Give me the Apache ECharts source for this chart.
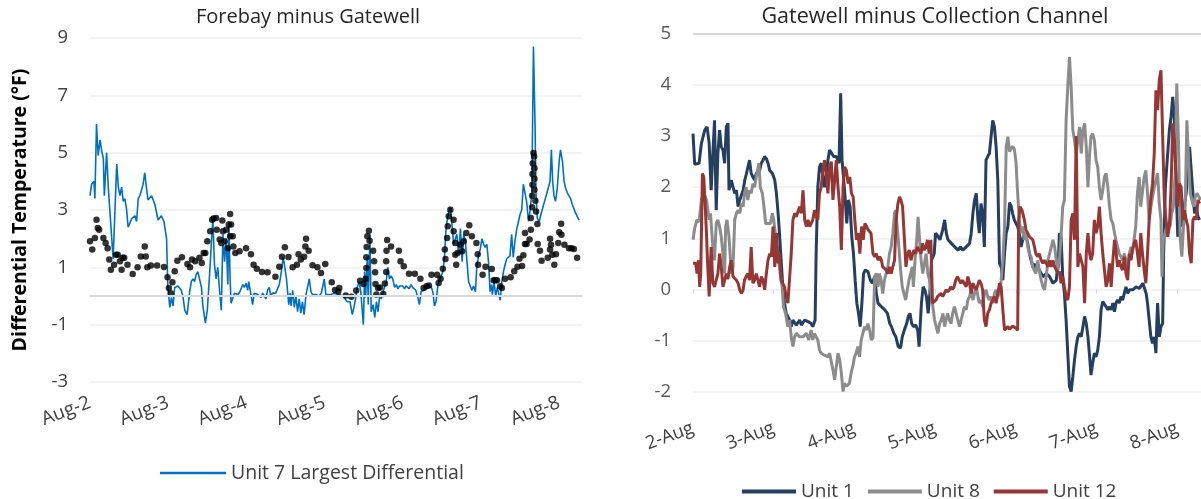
<!DOCTYPE html>
<html><head><meta charset="utf-8">
<script src="https://cdn.jsdelivr.net/npm/echarts@6/dist/echarts.min.js"></script>
<style>html,body{margin:0;padding:0;background:#fff}#c{width:1201px;height:499px}</style>
</head><body><div id="c"></div>
<script>
// x values are hours since Aug-2 00:00
const leftDayLabels = ['Aug-2','Aug-3','Aug-4','Aug-5','Aug-6','Aug-7','Aug-8'];
const rightDayLabels = ['2-Aug','3-Aug','4-Aug','5-Aug','6-Aug','7-Aug','8-Aug'];
const leftTitle = 'Forebay minus Gatewell';
const rightTitle = 'Gatewell minus Collection Channel';
const leftYName = 'Differential Temperature (°F)';

const unit7Largest = [[0,3.5],[0.5,3.9],[1.2,4.0],[1.5,3.4],[2,6.0],[2.5,4.9],[3.1,5.45],[3.6,5.05],[4.1,4.8],[4.4,3.5],[5.1,5.0],[5.6,3.8],[6.1,3.8],[7.1,1.3],[8.2,4.6],[8.7,3.8],[9.2,3.5],[9.7,3.8],[10.2,3.3],[10.7,3.4],[11.2,3.05],[11.7,2.4],[12.8,2.7],[13.8,2.8],[14.3,2.6],[14.8,3.4],[15.3,3.5],[16.3,3.9],[16.8,4.3],[17.3,3.8],[17.8,3.35],[18.9,3.5],[19.9,3.2],[20.9,2.65],[21.9,2.8],[22.7,2.6],[23.5,2.0],[23.9,0.3],[24.5,-0.4],[25,-0.05],[25.5,-0.35],[26,0.3],[27,0.35],[28,0.2],[28.5,0],[29.1,-0.5],[29.8,-0.65],[30.6,0.15],[31.1,0.5],[31.6,0.6],[32.1,0.5],[32.6,0.75],[33.1,0.85],[33.6,0.9],[34.2,0.3],[34.6,-0.3],[35.4,-0.95],[36,-0.5],[36.7,0.75],[37.2,0.7],[37.7,2.7],[38.2,1.1],[38.7,0.6],[39.2,1.0],[39.8,0.15],[40.3,-0.5],[40.8,2.15],[41.3,1.2],[41.8,2.0],[42.3,0.4],[42.6,2.6],[43,0.6],[43.3,-0.25],[43.8,-0.3],[44.3,0.1],[44.8,0.1],[45.4,0.05],[46,0.15],[46.4,0.1],[46.9,0.4],[47.4,0.3],[47.9,0.45],[48.4,0.2],[48.7,0.5],[49.4,0.05],[49.9,-0.3],[50.4,0.1],[51,0.15],[51.5,0.05],[52,0.1],[52.5,-0.05],[53,0.1],[53.5,0.05],[54,-0.1],[54.5,0.2],[55,0.3],[55.5,0],[56,0.1],[56.5,0.05],[57,0.1],[57.5,0.15],[58.1,0.4],[58.6,0.75],[59.3,1.35],[59.8,1.0],[60.3,0.6],[61,-0.3],[61.4,0.1],[61.7,-0.35],[62.2,0.2],[62.7,-0.4],[63.2,0],[63.7,-0.55],[64.2,-0.1],[64.7,-0.6],[65.2,-0.2],[65.7,-0.65],[66.3,0.05],[66.8,0.1],[67.3,0.6],[67.8,0.15],[68.3,0.05],[69.3,0.05],[70.3,0],[71,0.1],[71.9,0.6],[72.4,0.05],[73,0.1],[74,0.05],[74.9,0.1],[75.5,0.05],[76.5,0.05],[77.5,0],[78,-0.05],[79,-0.2],[79.8,-0.2],[80.5,-0.65],[81,-0.4],[81.6,-0.05],[82,0.3],[82.6,0.5],[83.1,0.15],[83.6,0.2],[83.9,-1.0],[84.3,0.85],[84.6,-0.05],[85.1,1.35],[85.4,-0.3],[85.9,2.15],[86.3,-0.55],[86.9,-0.3],[87.4,-0.75],[87.9,-0.2],[88.4,-0.55],[88.9,0],[89.4,-0.1],[89.9,0.15],[90.4,0.3],[90.9,0.5],[91.4,1.0],[91.9,0.6],[92.4,0.7],[92.9,0.6],[93.5,0.3],[94,0.4],[94.5,0.25],[95,0.35],[95.5,0.3],[96,0.35],[96.5,0.25],[97,0.35],[97.5,0.3],[98,0.25],[98.5,0.4],[99,0.3],[99.5,0.3],[100,0.2],[100.6,-0.05],[101.1,-0.3],[101.6,0.15],[102.1,0.2],[103,0.25],[104,0.35],[104.8,0.3],[105.3,0.1],[105.7,-0.35],[106.2,-0.2],[106.7,0.3],[107.2,0.55],[107.8,0.6],[108.3,0.85],[108.8,1.35],[109.2,2.25],[109.6,2.6],[110.1,2.95],[110.6,3.1],[111.1,2.5],[111.6,1.8],[112.1,1.8],[112.6,2.15],[113.1,1.45],[113.7,2.35],[114.2,1.2],[114.7,2.15],[115.2,1.9],[115.7,1.2],[116.2,0.5],[116.7,0.35],[117.2,0.2],[117.7,0.35],[118.3,0.15],[118.7,1.0],[119.3,1.45],[119.8,1.65],[120.3,2.0],[120.8,1.8],[121.3,1.7],[121.8,1.8],[122.3,1.2],[122.8,0.15],[123.2,0.4],[123.5,0.05],[124,0.5],[124.5,0],[125,0.3],[125.4,0.1],[125.9,-0.15],[126.4,0.5],[126.9,0.85],[127.4,1.1],[127.9,1.3],[128.9,1.4],[129.4,2.15],[129.9,1.35],[130.4,1.9],[131,2.35],[131.5,2.6],[132,2.85],[132.5,3.0],[133,3.9],[133.5,3.6],[134,3.3],[134.6,2.6],[135.1,3.0],[135.6,3.6],[136.1,8.7],[136.6,5.9],[136.9,3.5],[137.3,2.7],[137.9,2.6],[138.4,2.85],[138.9,3.05],[139.5,3.3],[140,3.5],[140.6,3.55],[141.2,4.0],[141.6,5.1],[142,4.0],[142.4,3.5],[142.9,3.3],[143.4,3.75],[144,4.7],[144.4,5.1],[145,4.7],[145.5,4.0],[146,3.75],[146.5,3.6],[147,3.65],[147.5,3.4],[148,3.2],[148.5,3.15],[149,2.9],[149.5,2.95],[150.1,2.65]];

const otherUnitsDots = [[0,1.91],[0.7,1.62],[1.5,2.02],[2.0,2.66],[2.4,2.37],[2.8,2.31],[4.1,2.02],[4.8,1.85],[5.4,1.67],[5.9,1.27],[6.4,0.92],[7.4,1.09],[8.0,1.44],[8.5,1.44],[9.2,1.21],[9.7,0.92],[10.0,1.33],[10.5,1.33],[11.5,1.09],[13.1,0.77],[14.6,1.0],[15.6,1.38],[16.8,1.73],[17.1,1.38],[17.6,1.0],[18.7,1.06],[20.6,1.06],[22.7,1.01],[23.8,0.65],[24.2,0.28],[24.8,0.10],[25.3,0.48],[26.0,0.86],[26.8,1.23],[28.2,1.35],[29.9,1.12],[30.7,1.0],[31.3,1.27],[32.3,1.21],[33.6,1.33],[34.3,1.15],[34.9,1.5],[35.4,1.5],[36.0,1.91],[36.9,2.26],[37.5,2.66],[37.9,2.7],[38.7,2.72],[38.9,2.31],[39.8,1.97],[40.3,1.85],[40.6,2.63],[40.8,2.26],[41.3,1.91],[41.8,2.31],[42.3,1.67],[42.6,2.49],[43.0,2.86],[43.3,2.49],[43.0,2.08],[43.8,2.08],[44.0,1.73],[44.6,1.5],[45.9,1.56],[47.9,1.67],[49.4,1.46],[50.2,1.09],[51.2,0.95],[52.8,0.84],[54.5,0.83],[56.9,0.67],[58.1,1.02],[58.9,1.37],[59.8,1.7],[60.9,1.36],[62.2,1.0],[63.5,1.09],[64.0,1.46],[64.7,1.27],[65.7,1.37],[66.1,1.73],[66.3,2.0],[67.1,1.58],[68.3,1.07],[69.8,1.0],[70.9,0.8],[72.2,1.12],[74.2,0.48],[75.2,0.21],[76.2,0.16],[76.5,0.28],[78.5,0.02],[80.2,-0.03],[81.7,0.19],[82.9,0.53],[83.9,0.42],[84.6,0.6],[84.8,0.98],[84.8,1.35],[84.9,1.71],[85.1,2.08],[85.6,2.28],[85.8,1.93],[86.9,1.58],[87.2,1.21],[87.5,0.83],[87.6,0.42],[87.9,0.05],[88.4,0.28],[89.0,0.3],[90.0,0.07],[90.5,0.44],[90.9,0.84],[90.9,1.21],[91.0,1.58],[91.2,1.95],[92.4,1.73],[94.8,1.58],[95.3,1.21],[96.3,1.04],[97.9,0.78],[99.7,0.78],[101.4,0.6],[102.4,0.28],[103.3,0.34],[104.0,0.37],[104.8,0.74],[106.5,0.74],[107.0,0.45],[107.6,0.6],[108.3,0.95],[108.9,1.62],[109.1,1.29],[109.6,2.02],[109.8,2.43],[110.1,2.78],[110.6,3.01],[111.6,2.66],[111.6,2.26],[112.1,1.85],[112.1,1.44],[112.4,1.09],[112.8,1.5],[113.7,1.79],[114.2,1.56],[114.7,1.91],[115.5,2.2],[116.4,2.47],[117.2,2.08],[118.6,1.85],[119.0,1.46],[119.1,1.09],[120.5,0.74],[121.4,1.02],[123.3,0.94],[123.9,0.55],[124.4,0.55],[124.9,0.55],[125.9,0.34],[126.4,0.28],[127.4,0.6],[129.1,0.65],[130.2,0.86],[131.2,1.02],[131.8,1.3],[132.6,1.05],[133.0,1.42],[133.5,1.81],[133.5,2.2],[134.0,1.81],[134.9,1.97],[135.3,2.31],[135.3,2.72],[135.7,3.1],[135.7,3.5],[135.8,3.88],[135.8,4.26],[135.9,4.63],[136.1,4.99],[136.3,4.87],[136.4,4.46],[136.4,4.09],[136.4,3.71],[136.7,3.32],[136.9,2.95],[137.3,2.51],[137.4,1.81],[138.1,1.58],[138.6,1.23],[140.5,1.33],[141.2,2.0],[141.5,1.79],[141.2,1.62],[141.9,1.44],[142.5,1.09],[143.0,1.46],[143.7,1.85],[144.0,2.22],[144.6,2.52],[144.7,2.14],[145.6,1.79],[147.0,1.67],[147.8,1.67],[148.5,1.64],[149.5,1.33]];

const unit1 = [[0,3.05],[0.5,2.45],[1.8,2.47],[2.5,2.86],[3.5,3.12],[4.2,3.18],[4.8,2.86],[5.4,1.94],[5.9,2.66],[6.4,3.31],[6.9,1.55],[7.4,2.66],[7.9,3.12],[8.4,2.79],[8.9,2.73],[9.4,2.47],[9.9,3.18],[10.4,3.25],[10.7,1.94],[11.4,2.14],[11.9,2.0],[12.4,1.88],[12.9,1.94],[13.4,1.62],[13.9,1.75],[14.9,1.94],[15.4,2.14],[15.9,2.27],[16.3,2.3],[16.8,2.53],[17.3,2.27],[17.8,2.2],[18.3,2.14],[18.8,2.27],[19.8,2.33],[20.3,2.47],[20.8,2.53],[21.3,2.6],[21.8,2.56],[22.3,2.47],[22.8,2.33],[23.6,2.27],[24.3,2.14],[24.8,1.88],[25.3,1.49],[25.7,1.1],[26.2,0.57],[26.7,0.05],[27.2,-0.27],[27.7,-0.47],[28.7,-0.6],[29.2,-0.73],[29.7,-0.6],[30.7,-0.7],[31.2,-0.73],[31.7,-0.6],[32.2,-0.7],[33.2,-0.6],[34.2,-0.63],[34.7,-0.6],[35.1,-0.67],[35.6,-0.73],[36.3,-0.6],[36.6,0.7],[37.1,2.0],[37.6,2.4],[38.1,2.47],[38.6,2.2],[39.1,2.0],[39.6,2.27],[40.1,2.53],[40.6,2.73],[41.1,2.7],[41.8,2.6],[42.6,2.6],[43.4,2.47],[43.9,3.84],[44.3,2.53],[44.8,2.14],[45.2,1.81],[45.7,1.29],[46.2,1.75],[46.7,1.62],[47.2,1.03],[47.7,0.7],[48.2,0.18],[48.7,-0.27],[49.2,-0.47],[49.7,-0.73],[50.2,-0.27],[50.7,0.31],[51.2,0.38],[52,0.35],[52.7,0.18],[53.3,0.12],[54,0.25],[54.5,-0.08],[55,-0.27],[56,-0.34],[57,-0.4],[57.8,-0.47],[58.5,-0.67],[59,-0.73],[59.7,-0.86],[60.3,-0.93],[61,-1.12],[61.7,-1.15],[62.2,-0.93],[62.8,-0.8],[63.5,-0.67],[64,-0.53],[64.5,-0.47],[65,-0.67],[65.5,-0.73],[66.2,-0.7],[66.8,-0.8],[67.2,-1.12],[67.9,-0.27],[68.4,0.05],[68.9,-0.01],[69.4,-0.14],[69.9,-0.47],[70.4,-0.08],[70.9,0.57],[71.7,0.7],[72.1,1.1],[72.9,1.03],[73.4,0.97],[74.2,1.16],[74.8,1.36],[75.3,1.1],[75.8,0.97],[76.8,0.9],[77.8,0.83],[78.8,0.77],[79.5,0.83],[80.2,0.77],[81.2,0.83],[82.2,0.9],[82.7,1.1],[83.2,1.49],[83.7,1.75],[84.2,1.88],[84.7,1.36],[85.1,1.1],[85.6,1.68],[86.1,1.49],[86.6,0.83],[87.1,2.53],[87.6,2.6],[88.1,2.66],[88.6,2.99],[89.1,3.31],[89.6,3.18],[90.1,2.79],[90.6,2.14],[91.1,0.51],[91.6,0.44],[92.1,0.18],[92.6,0.7],[93.1,1.1],[93.6,1.23],[94.1,1.7],[94.6,1.62],[95,1.49],[95.5,1.36],[96,1.29],[96.5,1.23],[97,1.1],[97.5,0.83],[98,0.97],[98.5,1.1],[99,1.03],[99.5,0.9],[100,0.7],[100.5,0.57],[101,0.44],[101.5,0.5],[101.9,0.38],[102.4,0.5],[102.9,0.38],[103.5,0.31],[104,0.25],[105,0.31],[106,0.25],[107,0.12],[108,0.18],[108.7,0.7],[108.9,1.1],[109.4,1.03],[109.9,0.25],[110.4,-0.08],[110.9,-0.6],[111.4,-1.25],[111.9,-1.9],[112.4,-2.0],[112.9,-1.71],[113.4,-1.38],[113.9,-1.12],[114.4,-0.93],[114.9,-0.86],[115.4,-0.93],[115.9,-0.73],[116.4,-0.53],[116.9,-0.67],[117.4,-0.93],[117.9,-1.32],[118.3,-1.68],[118.8,-1.45],[119.3,-1.25],[119.8,-1.32],[120.3,-1.19],[120.8,-0.93],[121.3,-0.4],[121.8,-0.24],[122.3,-0.27],[122.8,-0.34],[123.3,-0.4],[123.8,-0.34],[124.3,-0.4],[124.8,-0.27],[125.3,-0.44],[125.7,-0.27],[126.2,-0.21],[126.7,-0.27],[127.2,-0.14],[127.7,-0.21],[128.2,-0.08],[128.7,0.05],[129.2,-0.08],[129.7,-0.01],[130.2,0.02],[130.7,-0.01],[131.7,0.05],[132.7,0.02],[133.7,0.12],[134.2,0.02],[134.7,-0.08],[135.1,-0.27],[135.6,-0.6],[136.1,-0.93],[136.6,-1.06],[137.1,-0.93],[137.6,-1.25],[137.9,-0.6],[138.1,-0.27],[138.6,-0.93],[139.1,-0.73],[139.6,-0.67],[139.9,0.7],[140.4,2.0],[141.1,2.66],[141.6,3.12],[142.1,3.38],[142.6,3.77],[143.1,3.31],[143.6,2.0],[144.1,1.03],[144.6,1.36],[145.1,1.23],[145.6,1.49],[146.1,1.68],[146.6,1.88],[147.1,2.4],[147.6,2.79],[148.1,2.33],[148.6,1.88],[149.1,1.49],[149.6,1.62],[150.1,1.42],[150.6,1.36]];

const unit8 = [[0,0.97],[0.5,1.2],[1.2,1.36],[1.8,1.32],[2.5,1.75],[3.2,1.88],[4,1.75],[4.8,1.36],[5.2,1.49],[5.9,0.83],[6.4,0.57],[6.9,1.29],[7.4,1.36],[7.9,1.23],[8.4,1.03],[8.9,0.7],[9.4,0.31],[9.7,1.23],[10.1,1.36],[10.7,1.03],[11.4,0.31],[11.9,0.44],[12.4,1.36],[12.9,1.49],[13.4,1.55],[13.9,1.49],[14.4,1.68],[14.9,1.62],[15.3,1.88],[15.8,2.0],[16.3,1.75],[16.8,1.94],[17.3,1.88],[17.8,2.07],[18.3,2.0],[18.8,2.2],[19.3,2.2],[19.6,2.47],[20,2.0],[20.6,1.88],[21,1.68],[21.6,1.29],[22.3,1.29],[23,1.29],[23.6,1.49],[24,1.36],[24.6,1.03],[25.2,0.7],[25.9,0.31],[26.5,0.05],[26.9,-0.34],[27.5,-0.47],[28.2,-0.73],[28.7,-0.6],[29.2,-0.93],[29.7,-1.12],[30.2,-0.93],[30.7,-0.86],[31.7,-0.93],[32.7,-0.93],[33.7,-0.86],[34.4,-0.99],[35.1,-0.8],[35.6,-0.99],[36.1,-0.86],[36.6,-0.93],[37.1,-0.99],[37.6,-1.19],[38.1,-1.25],[38.6,-1.25],[39.1,-1.29],[40.1,-1.32],[40.6,-1.25],[41.6,-1.58],[42.1,-1.77],[42.6,-1.51],[43.1,-1.25],[43.6,-1.38],[44.1,-1.64],[44.6,-2.0],[45.0,-1.84],[45.5,-1.9],[46.0,-1.87],[46.5,-1.84],[47.0,-1.64],[47.5,-1.51],[48.0,-1.32],[48.5,-1.25],[49.0,-1.12],[49.5,-1.32],[50,-0.99],[50.5,-0.86],[51,-0.73],[51.5,-0.8],[52,-0.67],[52.5,-0.8],[53,-0.99],[53.5,-0.95],[54,0.25],[54.5,0.31],[55,0.05],[55.4,0.31],[55.9,0.18],[56.4,-0.08],[56.9,0.18],[57.4,0.31],[57.9,0.44],[58.4,0.7],[58.9,0.83],[59.4,1.1],[59.9,1.49],[60.2,1.55],[60.7,1.23],[61.2,0.83],[61.7,0.38],[62.2,0.05],[62.7,-0.08],[63.2,-0.21],[63.7,-0.01],[64.2,0.18],[64.7,0.31],[65.2,0.44],[65.5,0.05],[66.0,0.57],[66.5,0.97],[66.9,1.42],[67.3,1.03],[67.8,0.57],[68.3,0.31],[68.8,0.31],[69.3,0.7],[69.8,0.31],[70.3,0.18],[70.8,-0.08],[71.3,-0.34],[71.8,-0.6],[72.3,-0.73],[72.8,-0.86],[73.3,-0.67],[73.8,-0.6],[74.3,-0.47],[74.8,-0.73],[75.2,-0.6],[75.7,-0.47],[76.2,-0.6],[76.7,-0.67],[77.2,-0.47],[77.7,-0.34],[78.2,-0.47],[78.7,-0.6],[79.2,-0.73],[79.7,-0.6],[80.2,-0.47],[80.7,-0.34],[81.2,-0.4],[81.7,-0.21],[82.2,-0.14],[82.7,-0.01],[83.2,-0.21],[83.7,-0.08],[84.2,0.05],[84.7,-0.14],[85.1,-0.27],[85.6,-0.21],[86.1,-0.34],[86.6,-0.08],[87.1,-0.01],[87.6,-0.14],[88.1,-0.21],[88.6,-0.14],[89.1,-0.27],[89.6,-0.08],[90.1,-0.01],[90.6,-0.14],[91.1,-0.08],[91.6,0.18],[92.1,0.57],[92.6,1.23],[93.1,2.79],[93.6,2.99],[94.1,2.7],[94.6,2.7],[95,2.8],[95.5,2.75],[96,2.5],[96.5,1.88],[97,1.36],[97.5,1.1],[98,1.23],[98.5,0.97],[99,1.1],[99.5,0.83],[100,0.7],[100.5,0.64],[101,0.44],[101.5,0.44],[101.9,0.31],[102.5,0.57],[102.9,0.38],[103.5,0.18],[104,0.05],[104.5,-0.01],[105,0.25],[105.5,0.57],[106,0.7],[106.5,0.83],[107,0.97],[107.5,0.83],[108,0.57],[108.5,0.38],[108.9,0.57],[109.4,1.03],[109.9,1.62],[110.4,1.75],[110.9,3.31],[111.4,3.97],[111.9,4.55],[112.4,3.97],[112.9,3.12],[113.4,2.92],[113.9,2.66],[114.4,2.92],[114.9,3.18],[115.4,2.66],[115.9,3.12],[116.4,3.25],[116.9,2.79],[117.4,2.0],[117.9,2.66],[118.3,2.99],[118.8,3.05],[119.3,2.92],[119.8,2.53],[120.3,2.4],[120.8,2.0],[121.3,1.75],[121.8,1.94],[122.3,2.2],[122.8,2.27],[123.3,2.0],[123.8,1.62],[124.3,1.36],[124.8,1.29],[125.3,1.1],[125.7,0.97],[126.2,0.83],[126.7,0.7],[127.2,0.64],[127.7,0.57],[128.2,0.7],[128.7,0.57],[129.2,0.44],[129.7,0.7],[130.2,0.83],[130.6,0.7],[131.1,0.97],[131.6,1.23],[132.1,1.88],[132.6,2.2],[133.1,1.62],[133.6,1.62],[134.1,2.2],[134.6,2.33],[135.1,1.88],[135.6,1.36],[136.1,1.62],[136.6,1.81],[137.1,2.0],[137.6,2.0],[138.1,2.27],[138.6,1.68],[139.1,1.36],[139.4,0.25],[139.8,0.97],[140.3,1.1],[140.8,1.23],[141.3,1.29],[141.8,1.23],[142.3,1.49],[142.8,1.62],[143.3,2.27],[143.8,4.03],[144.3,2.92],[144.8,1.03],[145.3,0.64],[145.8,1.23],[146.3,1.62],[146.8,3.31],[147.3,2.53],[147.8,1.88],[148.3,1.75],[148.8,1.62],[149.3,1.81],[149.8,1.88],[150.3,1.88],[150.9,1.75]];

const unit12 = [[0,0.51],[0.8,0.51],[1.2,0.31],[1.6,0.57],[2.0,0.05],[2.3,0.31],[2.8,2.27],[3.2,2.2],[3.6,1.68],[4.0,1.1],[4.3,0.57],[4.8,-0.14],[5.1,0.38],[5.4,0.83],[5.9,0.12],[6.4,0.05],[6.9,0.18],[7.4,0.31],[7.9,0.7],[8.4,0.44],[8.9,0.05],[9.4,0.18],[9.9,0.31],[10.4,0.2],[10.9,0.44],[11.4,0.57],[11.9,0.25],[12.4,0.25],[12.9,0.18],[13.4,0.12],[13.9,-0.01],[14.4,-0.08],[14.9,-0.01],[15.3,0.18],[15.8,0.25],[16.3,0.31],[16.8,0.18],[17.3,0.83],[17.8,0.12],[18.3,0.18],[18.8,0.31],[19.3,0.18],[19.8,0.05],[20.3,0.25],[20.8,0.18],[21.3,-0.01],[21.8,0.31],[22.3,0.57],[22.8,0.7],[23.3,0.64],[23.8,1.23],[24.3,0.44],[24.8,1.1],[25.3,0.51],[25.7,0.7],[26.2,0.18],[26.7,0.18],[27.2,0.05],[27.7,-0.14],[28.2,-0.27],[28.7,-0.27],[29.2,0.7],[29.7,1.36],[30.2,1.49],[30.7,1.42],[31.2,1.52],[31.7,1.62],[32.2,1.49],[32.7,1.94],[33.2,1.36],[33.7,1.23],[34.2,1.36],[34.7,1.23],[35.1,1.23],[35.6,1.36],[36.1,1.55],[36.6,1.42],[37.1,1.36],[37.6,1.88],[38.1,2.0],[38.6,2.33],[39.1,2.53],[39.6,2.27],[40.1,1.88],[40.6,2.4],[41.1,2.5],[41.6,1.75],[42.1,2.14],[42.6,2.53],[43.1,2.0],[43.6,1.62],[44.1,0.77],[44.6,2.0],[45.1,2.4],[45.6,2.33],[46.1,2.07],[46.6,2.2],[47.1,1.88],[47.6,1.81],[48.1,1.36],[48.6,0.97],[49.1,1.1],[49.6,0.7],[50.1,1.23],[50.6,0.97],[51.1,1.29],[51.6,1.23],[52.1,1.16],[52.5,1.18],[52.9,1.1],[53.5,0.7],[54,0.64],[54.5,0.7],[55,0.57],[55.5,0.64],[56,0.57],[56.4,0.44],[57.4,0.38],[57.9,0.31],[58.4,0.44],[58.9,0.31],[59.4,0.44],[59.9,0.57],[60.4,1.36],[60.9,1.68],[61.4,1.81],[61.8,1.75],[62.3,1.62],[62.8,1.03],[63.3,0.44],[63.8,0.7],[64.3,0.77],[64.8,0.57],[65.3,0.7],[65.7,0.77],[66.2,0.7],[66.7,0.83],[67.2,0.77],[67.8,0.7],[68.2,0.9],[68.7,0.77],[69.2,0.83],[69.7,0.97],[70.2,0.7],[70.7,0.97],[71.2,-0.27],[71.7,-0.27],[72.2,-0.21],[72.7,-0.14],[73.2,-0.14],[73.7,-0.08],[74.2,-0.14],[74.7,-0.08],[75.2,-0.01],[75.7,-0.05],[76.2,-0.01],[76.6,0.05],[77.1,0.0],[77.6,0.05],[78.1,0.18],[78.6,0.25],[79.1,0.25],[79.6,0.12],[80.1,0.18],[80.6,0.12],[81.2,0.05],[81.7,0.25],[82.2,0.12],[82.7,-0.08],[83.2,0.12],[83.7,0.05],[84.2,-0.01],[85.1,0.18],[85.6,0.12],[86.1,-0.01],[86.6,-0.6],[87.1,-0.73],[87.6,-0.47],[88.1,-0.4],[88.6,-0.27],[89.1,-0.21],[89.6,-0.14],[90.1,-0.27],[90.6,-0.08],[91.1,0.12],[91.6,0.05],[92.1,-0.4],[92.6,-0.8],[93.1,-0.8],[93.6,-0.73],[94.1,-0.78],[95,-0.72],[96,-0.76],[96.5,-0.8],[96.8,1.36],[97.2,1.62],[97.8,1.55],[98.5,1.36],[99,1.16],[99.5,1.1],[100,1.03],[100.5,1.03],[101,0.97],[101.5,0.83],[101.9,0.7],[102.5,0.64],[102.9,0.7],[103.5,0.57],[104,0.51],[104.5,0.57],[105,0.51],[105.5,0.44],[106,0.57],[106.5,0.44],[107,0.57],[107.5,0.44],[108,0.44],[108.5,0.31],[108.9,0.35],[109.4,0.12],[109.9,0.25],[110.4,0.05],[110.9,-0.14],[111.4,-0.21],[111.9,0.05],[112.4,1.36],[112.9,1.49],[113.4,0.97],[113.9,3.0],[114.4,0.44],[114.9,0.7],[115.4,0.57],[115.9,0.44],[116.4,-0.27],[116.9,0.7],[117.4,1.1],[117.9,0.7],[118.3,0.57],[118.8,0.7],[119.3,1.36],[119.8,1.1],[120.3,1.23],[120.8,1.62],[121.3,1.1],[121.8,0.7],[122.3,0.38],[122.8,0.05],[123.3,0.18],[123.8,0.51],[124.3,0.05],[124.8,0.57],[125.3,0.97],[125.7,0.77],[126.2,0.44],[126.7,0.57],[127.2,0.44],[127.7,0.38],[128.2,0.64],[128.7,0.31],[129.2,0.18],[129.7,0.7],[130.2,0.57],[130.6,0.77],[131.1,0.9],[131.6,0.97],[132.1,0.7],[132.6,0.44],[133.1,1.1],[133.6,0.7],[134.1,0.38],[134.6,0.12],[135.1,0.7],[135.6,1.36],[136.1,1.81],[136.6,2.07],[137.1,2.66],[137.6,3.9],[138.1,3.51],[138.6,4.1],[139.1,4.29],[139.6,3.0],[140.1,1.75],[140.6,1.36],[141.1,1.03],[141.6,1.23],[142.1,2.0],[142.6,3.25],[143.1,2.92],[143.6,2.2],[144.1,1.62],[144.6,2.07],[145.1,2.0],[145.6,1.36],[146.1,1.55],[146.6,1.36],[147.1,1.23],[147.6,0.7],[148.1,0.51],[148.6,1.36],[149.1,1.42],[149.6,1.36],[150.1,1.75],[150.6,1.68]];

const FONT = "'Open Sans', 'Noto Sans', sans-serif";
const chart = echarts.init(document.getElementById('c'), null, {renderer: 'canvas'});
function dayFmt(labels){ return v => (Math.abs(v % 24) < 1e-6 && v/24 < labels.length) ? labels[v/24] : ''; }

chart.setOption({
  animation: false,
  backgroundColor: '#fff',
  textStyle: {fontFamily: FONT},
  title: [
    {text: leftTitle, left: 303, top: 2, textAlign: 'center', textStyle: {fontFamily: FONT, fontSize: 20, fontWeight: 'normal', color: '#262626'}},
    {text: rightTitle, left: 930, top: 1, textAlign: 'center', textStyle: {fontFamily: FONT, fontSize: 21.5, fontWeight: 'normal', color: '#262626'}}
  ],
  legend: [
    {data: ['Unit 7 Largest Differential'], left: 155, top: 458, icon: 'rect', itemWidth: 66, itemHeight: 2.5, itemGap: 8,
     textStyle: {fontFamily: FONT, fontSize: 19.5, color: '#404040'}},
    {data: ['Unit 1', 'Unit 8', 'Unit 12'], left: 737, top: 477, icon: 'rect', itemWidth: 54, itemHeight: 4, itemGap: 14,
     textStyle: {fontFamily: FONT, fontSize: 19, color: '#404040'}}
  ],
  grid: [
    {left: 90, top: 38, width: 492, height: 344},
    {left: 693, top: 34, right: 0, height: 357.5}
  ],
  xAxis: [
    {type: 'value', gridIndex: 0, min: 0, max: 151, interval: 24,
     axisLine: {show: false}, axisTick: {show: false}, splitLine: {show: false},
     axisLabel: {rotate: 21, margin: 20, fontSize: 19, color: '#404040', fontFamily: FONT, formatter: dayFmt(leftDayLabels), showMaxLabel: false}},
    {type: 'value', gridIndex: 1, min: 0, max: 151, interval: 24, offset: 26,
     axisLine: {show: false}, axisTick: {show: true, length: 4, lineStyle: {color: '#d9d9d9'}}, splitLine: {show: false},
     axisLabel: {rotate: 20, margin: 10, fontSize: 18.5, color: '#404040', fontFamily: FONT, formatter: dayFmt(rightDayLabels), showMaxLabel: false}}
  ],
  yAxis: [
    {type: 'value', gridIndex: 0, min: -3, max: 9, interval: 2,
     name: leftYName, nameLocation: 'middle', nameGap: 60, nameRotate: 90,
     nameTextStyle: {fontFamily: FONT, fontSize: 19.5, fontWeight: 'bold', color: '#000'},
     axisLine: {show: false}, axisTick: {show: false},
     splitLine: {lineStyle: {color: '#efefef', width: 1.5}},
     axisLabel: {fontSize: 18.5, color: '#404040', margin: 22, fontFamily: FONT}},
    {type: 'value', gridIndex: 1, min: -2, max: 5, interval: 1,
     axisLine: {show: false}, axisTick: {show: false},
     splitLine: {lineStyle: {color: '#efefef', width: 1.5}},
     axisLabel: {fontSize: 18.5, color: '#595959', margin: 22, fontFamily: FONT}}
  ],
  series: [
    {name: 'Unit 7 Largest Differential', type: 'line', xAxisIndex: 0, yAxisIndex: 0, data: unit7Largest,
     symbol: 'none', lineStyle: {color: '#0070C0', width: 1.6}, itemStyle: {color: '#0070C0'},
     markLine: {silent: true, symbol: 'none', label: {show: false}, lineStyle: {color: '#d9d9d9', width: 2, type: 'solid'}, data: [{yAxis: 0}]}, z: 2},
    {name: 'Other units', type: 'scatter', xAxisIndex: 0, yAxisIndex: 0, data: otherUnitsDots,
     symbol: 'circle', symbolSize: 6.5, itemStyle: {color: '#000'}, z: 3},
    {name: 'Unit 1', type: 'line', xAxisIndex: 1, yAxisIndex: 1, data: unit1, symbol: 'none',
     lineStyle: {color: '#243F60', width: 3}, itemStyle: {color: '#243F60'}},
    {name: 'Unit 8', type: 'line', xAxisIndex: 1, yAxisIndex: 1, data: unit8, symbol: 'none',
     lineStyle: {color: '#8C8C8C', width: 3}, itemStyle: {color: '#8C8C8C'}},
    {name: 'Unit 12', type: 'line', xAxisIndex: 1, yAxisIndex: 1, data: unit12, symbol: 'none',
     lineStyle: {color: '#953735', width: 3}, itemStyle: {color: '#953735'},
     markLine: {silent: true, symbol: 'none', label: {show: false}, lineStyle: {color: '#d9d9d9', width: 2, type: 'solid'}, data: [{yAxis: 5}], z: 0}}
  ]
});
</script></body></html>
